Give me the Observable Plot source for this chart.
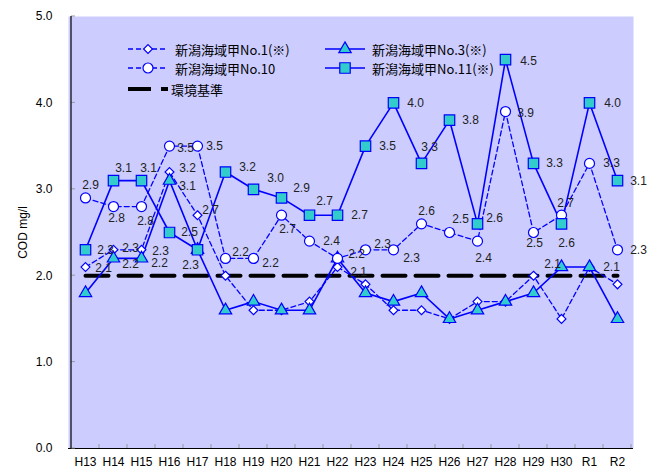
<!DOCTYPE html>
<html><head><meta charset="utf-8">
<script src="https://cdn.jsdelivr.net/npm/d3@7"></script>
<script src="https://cdn.jsdelivr.net/npm/@observablehq/plot@0.6"></script>
<style>
body{margin:0;background:#fff;}
#wrap{position:relative;width:649px;height:474px;}
.item{position:absolute;display:flex;align-items:center;height:18px;white-space:nowrap;font-family:"Noto Sans CJK JP",sans-serif;font-size:13px;color:#000;}
.item svg{display:block}
</style></head><body><div id="wrap"></div>
<script>
// ---- data ----
const years = ["H13","H14","H15","H16","H17","H18","H19","H20","H21","H22","H23","H24","H25","H26","H27","H28","H29","H30","R1","R2"];
const no1  = [2.1,2.3,2.3,3.2,2.7,2.0,1.6,1.6,1.7,2.1,1.9,1.6,1.6,1.5,1.7,1.7,2.0,1.5,2.1,1.9];
const no3  = [1.8,2.2,2.2,3.1,2.3,1.6,1.7,1.6,1.6,2.2,1.8,1.7,1.8,1.5,1.6,1.7,1.8,2.1,2.1,1.5];
const no10 = [2.9,2.8,2.8,3.5,3.5,2.2,2.2,2.7,2.4,2.2,2.3,2.3,2.6,2.5,2.4,3.9,2.5,2.7,3.3,2.3];
const no11 = [2.3,3.1,3.1,2.5,2.3,3.2,3.0,2.9,2.7,2.7,3.5,4.0,3.3,3.8,2.6,4.5,3.3,2.6,4.0,3.1];
const standard = 2.0;
const seriesNames = ["新潟海域甲No.1(※)","新潟海域甲No.3(※)","新潟海域甲No.10","新潟海域甲No.11(※)","環境基準"];
const yTicks = [0,1,2,3,4,5];

// ---- label placement (pixel offsets; null = no label) ----
const lab1 = [[18,1],[17,-2],[19,1],[18,-4],[13,-5],null,null,null,null,[21,5],null,null,null,null,null,null,null,null,null,null];
const lab3 = [null,[17,6],[18,5],[18,5],null,null,null,null,null,null,null,null,null,null,null,null,null,[-9,-3],[22,0],null];
const lab10 = [[5,-13],[3,12],[4,15],[16,2],[17,0],[15,-6],[17,5],[6,14],[22,0],[19,-4],[17,-6],[18,8],[5,-13],[11,-13],[6,17],[20,2],[1,11],[4,-12],[22,0],[21,0]];
const lab11 = [[20,0],[10,-13],[7,-13],[20,0],[-7,15],[22,-5],[22,-11],[20,-10],[15,-14],[22,0],[22,0],[22,0],[8,-16],[21,0],[17,-6],[23,1],[21,0],[5,19],[23,0],[21,0]];

// ---- styles ----
const BLUE = "#0000FF", TEAL = "#33CCCC", BG = "#CCCCFF";
const styles = [
  {vals:no1,  labs:lab1,  dash:"5,3", symbol:"diamond2", r:4,   fill:"white"},
  {vals:no3,  labs:lab3,  dash:null,  symbol:"triangle", r:4.6, fill:TEAL},
  {vals:no10, labs:lab10, dash:"5,3", symbol:"circle",   r:5,   fill:"white"},
  {vals:no11, labs:lab11, dash:null,  symbol:"square",   r:5.9, fill:TEAL}
];

const rows = s => years.map((y,i)=>({x:y, v:s.vals[i], lab:s.labs[i]}));
const marks = [
  Plot.frame({fill:BG, stroke:null}),
  Plot.axisX({tickSize:0, tickPadding:9, label:null, fontSize:12}),
  Plot.axisY({ticks:yTicks, tickFormat:d=>d.toFixed(1), tickSize:0, tickPadding:16, fontSize:12,
              label:"COD mg/l", labelAnchor:"center", labelOffset:50, labelArrow:"none"}),
  Plot.ruleY([0], {stroke:"black", strokeWidth:1.2}),
  Plot.line(years.map(y=>({x:y, v:standard})), {x:"x", y:"v", stroke:"black", strokeWidth:4, strokeDasharray:"23,10"})
];
for (const s of styles) {
  const d = rows(s);
  marks.push(Plot.line(d, {x:"x", y:"v", stroke:BLUE, strokeWidth:s.dash?1.3:1.6, strokeDasharray:s.dash||undefined}));
}
for (const s of styles) {
  const d = rows(s);
  marks.push(Plot.dot(d, {x:"x", y:"v", symbol:()=>s.symbol, r:s.r, fill:s.fill, stroke:BLUE, strokeWidth:1.2}));
}
for (const s of styles) {
  rows(s).forEach(p=>{
    if (!p.lab) return;
    marks.push(Plot.text([p], {x:"x", y:"v", text:q=>q.v.toFixed(1), dx:p.lab[0], dy:p.lab[1],
      fill:"#222", fontSize:12, textAnchor:"middle"}));
  });
}

const chart = Plot.plot({
  width:649, height:474, marginLeft:68, marginRight:16, marginTop:16, marginBottom:26,
  style:{fontFamily:"'Liberation Sans', Arial, sans-serif", fontSize:"12px", background:"white", color:"#000", overflow:"visible"},
  x:{type:"point", domain:years, padding:0.5},
  y:{domain:[0,5]},
  symbol:{type:"identity"},
  marks
});

// axis line and inward tick marks, positioned through the library scales
const xs = chart.scale("x"), ys = chart.scale("y");
const svg = d3.select(chart);
const step = xs.apply(years[1]) - xs.apply(years[0]);
const x0 = xs.apply(years[0]) - step/2, y0 = ys.apply(0), yTop = ys.apply(5);
const g = svg.append("g");
years.forEach((y,i)=>{
  const xb = xs.apply(y) + step/2;
  g.append("line").attr("x1",xb).attr("x2",xb).attr("y1",y0).attr("y2",y0-4).attr("stroke","#999");
});
yTicks.forEach(t=>{
  g.append("line").attr("x1",x0).attr("x2",x0+4).attr("y1",ys.apply(t)).attr("y2",ys.apply(t)).attr("stroke","#999");
});
g.append("line").attr("x1",x0).attr("x2",x0).attr("y1",yTop).attr("y2",y0+0.5).attr("stroke","black").attr("stroke-width",1.2);

const wrap = document.getElementById("wrap");
wrap.appendChild(chart);

// ---- legend ----
function symbolPath(name, r){
  const sym = {diamond2:d3.symbolDiamond2, triangle:d3.symbolTriangle, circle:d3.symbolCircle, square:d3.symbolSquare}[name];
  return d3.symbol(sym, Math.PI*r*r)();
}
const legendPos = [[127,40],[324,40],[127,59],[324,59]];
styles.forEach((s,i)=>{
  const div = document.createElement("div");
  div.className = "item";
  div.style.left = legendPos[i][0]+"px"; div.style.top = legendPos[i][1]+"px";
  div.innerHTML = `<svg width="42" height="18"><line x1="1" x2="41" y1="9" y2="9" stroke="${BLUE}" stroke-width="${s.dash?1.3:1.6}" ${s.dash?`stroke-dasharray="${s.dash}"`:""}/>`+
    `<path transform="translate(21,9)" d="${symbolPath(s.symbol,s.r)}" fill="${s.fill}" stroke="${BLUE}" stroke-width="1.2"/></svg>`+
    `<span style="margin-left:6px">${seriesNames[i]}</span>`;
  wrap.appendChild(div);
});
const std = document.createElement("div");
std.className = "item";
std.style.left = "127px"; std.style.top = "80px";
std.innerHTML = `<svg width="42" height="18"><line x1="1" x2="41" y1="9" y2="9" stroke="black" stroke-width="4" stroke-dasharray="23,10"/></svg><span style="margin-left:2px">${seriesNames[4]}</span>`;
wrap.appendChild(std);
</script>
</body></html>
